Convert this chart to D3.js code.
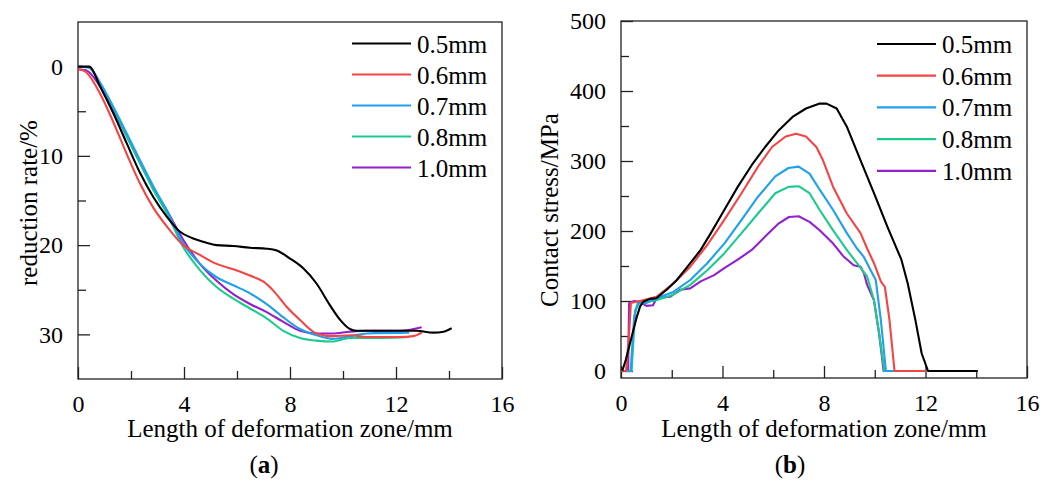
<!DOCTYPE html>
<html>
<head>
<meta charset="utf-8">
<script src="https://cdn.jsdelivr.net/npm/d3@7"></script>
<style>
  body { margin: 0; background: #fff; }
  svg text { font-family: "Liberation Serif", "Times New Roman", serif; fill: #000; }
</style>
</head>
<body>
<svg width="1054" height="481"></svg>
<script>
// legend names and colours
const names = ["0.5mm", "0.6mm", "0.7mm", "0.8mm", "1.0mm"];
const colors = ["#000000", "#f44444", "#1ea0ec", "#1ccb8c", "#9320cc"];

// (a) reduction rate/% vs length, [x, y]
const a05 = [[0,0],[0.43,0],[0.83,2.2],[1.33,5.2],[1.84,8.6],[2.34,11.9],[2.84,14.6],[3.35,16.8],[3.85,18.5],[4.3,19.2],[4.6,19.5],[5.23,20.0],[5.86,20.1],[6.49,20.3],[7.12,20.4],[7.5,20.6],[8.0,21.5],[8.5,22.6],[9.0,24.3],[9.5,26.7],[9.9,28.4],[10.26,29.4],[10.5,29.6],[11.5,29.6],[12.78,29.6],[13.4,29.8],[13.8,29.7],[14.1,29.3]];
const a06 = [[0,0.3],[0.25,0.5],[0.83,3.0],[1.33,6.2],[1.84,9.8],[2.34,13.1],[2.84,15.8],[3.35,17.9],[3.97,20.0],[4.6,21.1],[5.23,22.1],[5.86,22.7],[6.49,23.4],[7.0,24.1],[7.37,25.1],[7.87,26.9],[8.38,28.4],[9.0,29.9],[9.6,30.2],[10.3,30.1],[10.9,30.3],[12.15,30.3],[12.65,30.2],[12.97,29.8]];
const a07 = [[0,0],[0.4,0.1],[0.83,1.8],[1.33,4.5],[1.84,7.5],[2.34,10.5],[2.84,13.4],[3.35,16.1],[3.97,19.8],[4.6,22.1],[5.23,23.6],[5.86,24.5],[6.49,25.4],[7.12,26.6],[7.75,28.1],[8.38,29.4],[9.0,30.1],[9.6,30.5],[10.26,30.2],[10.9,29.9],[12.5,29.8]];
const a08 = [[0,0],[0.4,0.1],[0.83,1.8],[1.33,4.6],[1.84,7.8],[2.34,10.8],[2.84,13.8],[3.35,16.4],[3.97,20.2],[4.6,22.8],[5.23,24.7],[5.86,26.0],[6.49,27.1],[7.12,28.2],[7.75,29.6],[8.38,30.4],[9.0,30.7],[9.6,30.8],[10.26,30.4],[10.9,30.4],[11.5,30.4],[12.5,30.3]];
const a10 = [[0,0.3],[0.3,0.4],[0.83,2.2],[1.33,4.8],[1.84,7.8],[2.34,10.8],[2.84,13.6],[3.35,16.1],[3.97,19.4],[4.6,22.1],[5.23,24.0],[5.86,25.5],[6.49,26.6],[7.12,27.5],[7.75,28.6],[8.38,29.6],[9.0,29.9],[9.6,29.9],[10.26,29.7],[10.9,29.6],[12.15,29.6],[12.97,29.2]];

// (b) contact stress/MPa vs length, [x, y]
const b05 = [[0.05,0],[0.19,16],[0.42,49],[0.62,77],[0.75,92],[0.88,99],[1.14,103],[1.39,104],[1.8,116],[2.2,130],[2.73,154],[3.14,173],[3.54,197],[4.07,230],[4.6,263],[5.15,294],[5.68,320],[6.22,344],[6.76,363],[7.29,375],[7.83,382],[8.1,382],[8.5,375],[8.9,349],[9.44,301],[9.97,254],[10.5,206],[11.05,159],[11.3,125],[11.6,73],[11.85,25],[12.1,0],[14.06,0]];
const b06 = [[0,0],[0.2,0],[0.32,54],[0.39,97],[0.6,99],[0.86,101],[1.4,106],[2.06,125],[2.73,149],[3.4,180],[4.07,216],[4.75,254],[5.4,292],[5.95,320],[6.49,335],[6.9,339],[7.29,335],[7.7,320],[7.96,301],[8.36,263],[8.9,225],[9.44,197],[9.7,175],[9.97,154],[10.24,128],[10.4,120],[10.58,73],[10.78,0],[12.0,0]];
const b07 = [[0,0],[0.38,0],[0.52,78],[0.66,97],[1.0,97],[1.4,104],[2.06,113],[2.73,130],[3.4,154],[4.07,182],[4.75,216],[5.4,249],[6.08,278],[6.6,290],[7.0,292],[7.43,282],[7.83,259],[8.36,230],[8.9,197],[9.3,175],[9.57,163],[9.84,144],[10.04,130],[10.24,73],[10.44,0],[12.0,0]];
const b08 = [[0,0],[0.42,0],[0.56,87],[0.72,97],[1.39,101],[2.06,109],[2.73,123],[3.4,144],[4.07,168],[4.75,197],[5.4,225],[6.08,254],[6.6,263],[7.0,264],[7.43,254],[7.83,230],[8.36,201],[8.9,173],[9.3,154],[9.7,135],[9.97,101],[10.17,54],[10.38,0],[12.0,0]];
const b10 = [[0,0],[0.28,0],[0.32,97],[0.52,100],[0.72,99],[1.0,93],[1.26,94],[1.4,104],[1.93,106],[2.33,116],[2.73,118],[3.14,128],[3.67,137],[4.07,147],[4.6,159],[5.15,173],[5.68,192],[6.22,211],[6.62,220],[7.0,221],[7.43,213],[7.83,201],[8.36,182],[8.76,164],[9.17,151],[9.44,149],[9.57,140],[9.7,123],[9.97,101],[10.17,54],[10.35,0],[12.0,0]];

const xTicks = [0, 4, 8, 12, 16];
const xMinor = [2, 6, 10, 14];
const aTicks = [0, 10, 20, 30];
const aMinor = [5, 15, 25];
const bTicks = [0, 100, 200, 300, 400, 500];
const bMinor = [50, 150, 250, 350, 450];

const svg = d3.select("svg");

const panel = (opt) => {
    const x = d3.scaleLinear().domain([0, 16]).range([opt.left, opt.right]);
    const y = d3.scaleLinear().domain(opt.ydom).range([opt.bottom, opt.top]);
    const g = svg.append("g");

    // minor ticks first, then major with labels
    g.append("g").attr("transform", "translate(0," + opt.bottom + ")")
        .call(d3.axisBottom(x).tickValues(xMinor).tickSize(-8).tickFormat(""));
    g.append("g").attr("transform", "translate(0," + opt.bottom + ")")
        .call(d3.axisBottom(x).tickValues(xTicks).tickSize(-12).tickPadding(16));
    g.append("g").attr("transform", "translate(" + opt.left + ",0)")
        .call(d3.axisLeft(y).tickValues(opt.minor).tickSize(-8).tickFormat(""));
    g.append("g").attr("transform", "translate(" + opt.left + ",0)")
        .call(d3.axisLeft(y).tickValues(opt.ticks).tickSize(-12).tickPadding(15));

    g.selectAll(".domain").remove();
    g.selectAll(".tick line").attr("stroke", "#222").attr("stroke-width", 1.3);
    g.selectAll(".tick text").style("font-size", "24px")
        .style("font-family", "'Liberation Serif', serif").attr("fill", "#000");

    g.append("rect")
        .attr("x", opt.left).attr("y", opt.top)
        .attr("width", opt.right - opt.left).attr("height", opt.bottom - opt.top)
        .attr("fill", "none").attr("stroke", "#222").attr("stroke-width", 1.3);

    const line = d3.line().x(d => x(d[0])).y(d => y(d[1])).curve(opt.curve);

    // draw black last so it sits on top
    for (let i = opt.series.length - 1; i >= 0; i--) {
        g.append("path")
            .datum(opt.series[i])
            .attr("d", line)
            .attr("fill", "none")
            .attr("stroke", colors[i])
            .attr("stroke-width", 2.1)
            .attr("stroke-linejoin", "round");
    }

    // legend
    names.forEach((n, i) => {
        const ly = opt.legY + i * opt.legStep;
        g.append("line")
            .attr("x1", opt.right - 150).attr("x2", opt.right - 91)
            .attr("y1", ly).attr("y2", ly)
            .attr("stroke", colors[i]).attr("stroke-width", 2.2);
        g.append("text")
            .attr("x", opt.right - 85).attr("y", ly + 9)
            .style("font-size", "25px")
            .text(n);
    });

    g.append("text")
        .attr("x", (opt.left + opt.right) / 2).attr("y", 437)
        .attr("text-anchor", "middle")
        .style("font-size", "25px")
        .text("Length of deformation zone/mm");

    g.append("text")
        .attr("transform", "translate(" + opt.ylabX + "," + opt.ylabY + ") rotate(-90)")
        .attr("text-anchor", "middle")
        .style("font-size", "25px")
        .text(opt.ylab);

    const lab = g.append("text")
        .attr("x", opt.tagX).attr("y", 473)
        .attr("text-anchor", "middle")
        .style("font-size", "25px");
    lab.append("tspan").text("(");
    lab.append("tspan").style("font-weight", "bold").text(opt.tag);
    lab.append("tspan").text(")");
};

panel({
    left: 78, right: 502, top: 22, bottom: 379,
    ydom: [35, -5], ticks: aTicks, minor: aMinor,
    series: [a05, a06, a07, a08, a10],
    curve: d3.curveMonotoneX,
    legY: 43.5, legStep: 31,
    ylab: "reduction rate/%", ylabX: 37, ylabY: 203,
    tag: "a", tagX: 264
});

panel({
    left: 621, right: 1027, top: 21, bottom: 378,
    ydom: [-10, 500], ticks: bTicks, minor: bMinor,
    series: [b05, b06, b07, b08, b10],
    curve: d3.curveLinear,
    legY: 44, legStep: 31.7,
    ylab: "Contact stress/MPa", ylabX: 558, ylabY: 210,
    tag: "b", tagX: 790
});
</script>
</body>
</html>
